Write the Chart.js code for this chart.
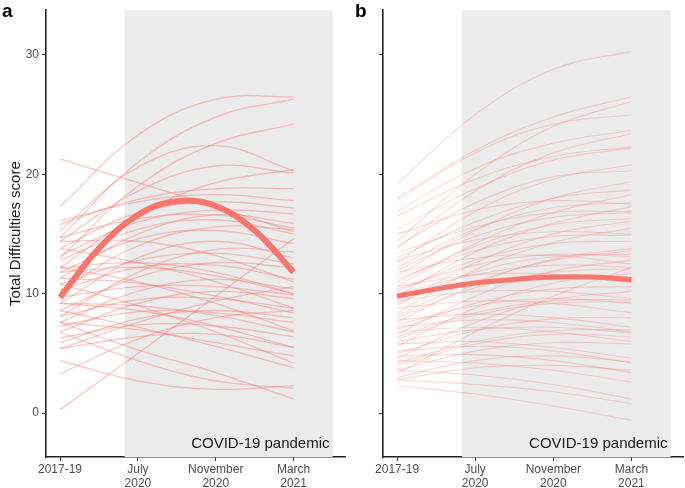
<!DOCTYPE html>
<html>
<head>
<meta charset="utf-8">
<script src="https://cdn.jsdelivr.net/npm/chart.js@4/dist/chart.umd.min.js"></script>
<style>
  body { margin: 0; background: #fff; }
  .panel { position: absolute; top: 0; }
  #wrapA { left: 0; width: 350px; height: 488px; }
  #wrapB { left: 350px; width: 335px; height: 488px; }
</style>
</head>
<body>
<div class="panel" id="wrapA"><canvas id="chartA" width="350" height="488"></canvas></div>
<div class="panel" id="wrapB"><canvas id="chartB" width="335" height="488"></canvas></div>
<script>
// time points: 2017-19, July 2020, November 2020, March 2021
const xPoints = [0, 1, 2, 3];
// the mean curves are read at half steps too
const xMeanPoints = [0, 0.5, 1, 1.5, 2, 2.5, 3];
const xTickLabels = ['2017-19', ['July', '2020'], ['November', '2020'], ['March', '2021']];
const yTicks = [0, 10, 20, 30];
const pandemicStart = 0.83;
const pandemicEnd = 3.5;

// panel a: individual trajectories (values at the four time points)
const panelACurves = [
    [21.3, 19.3, 17.3, 15.2],
    [17.3, 23.3, 26.3, 26.5],
    [14.7, 21.0, 24.8, 26.3],
    [13.0, 19.0, 22.6, 24.2],
    [15.3, 20.6, 22.4, 20.3],
    [14.4, 18.6, 20.7, 20.1],
    [12.2, 16.6, 19.3, 20.4],
    [15.8, 17.9, 18.8, 18.8],
    [16.1, 17.7, 18.3, 17.8],
    [13.8, 16.8, 17.7, 17.2],
    [13.2, 16.0, 17.0, 16.7],
    [11.3, 15.0, 16.6, 15.9],
    [14.7, 16.3, 16.6, 15.5],
    [12.8, 15.4, 16.2, 15.0],
    [11.8, 14.6, 15.3, 14.2],
    [9.2, 13.0, 14.4, 13.0],
    [0.3, 5.0, 9.8, 14.6],
    [10.8, 12.8, 13.4, 12.5],
    [8.6, 11.4, 12.6, 12.2],
    [10.3, 12.2, 12.4, 11.2],
    [7.6, 10.2, 11.2, 10.4],
    [12.2, 12.6, 11.8, 10.0],
    [6.8, 9.2, 10.2, 9.6],
    [9.7, 10.6, 10.6, 9.9],
    [8.1, 9.5, 9.6, 8.8],
    [13.8, 12.6, 11.0, 8.8],
    [11.3, 10.9, 9.8, 8.4],
    [5.9, 7.9, 8.6, 8.0],
    [7.3, 8.5, 8.4, 7.6],
    [12.2, 11.0, 9.2, 6.9],
    [6.3, 7.4, 7.3, 6.4],
    [9.2, 8.6, 7.3, 5.5],
    [5.4, 6.4, 6.6, 5.5],
    [7.6, 7.0, 5.9, 4.8],
    [10.8, 9.0, 6.8, 4.2],
    [8.6, 7.2, 5.6, 3.8],
    [3.3, 6.2, 8.0, 8.6],
    [4.4, 2.7, 2.0, 2.3],
    [7.6, 5.3, 3.4, 1.2],
    [6.8, 4.4, 2.7, 2.1],
    [5.4, 7.6, 9.4, 10.6],
    [8.1, 11.8, 13.7, 13.5],
    [10.3, 14.0, 15.6, 15.4],
    [14.4, 14.4, 13.2, 11.0],
    [9.2, 9.0, 8.2, 6.8],
    [11.8, 12.2, 11.5, 10.0]
];
const panelAMean = [9.7, 13.8, 16.6, 17.75, 17.35, 15.3, 11.8];

// panel b: individual trajectories
const panelBCurves = [
    [19.2, 25.0, 28.8, 30.3],
    [18.0, 22.0, 24.8, 26.5],
    [14.4, 20.0, 24.0, 26.1],
    [17.8, 21.8, 24.2, 25.0],
    [16.9, 20.5, 22.6, 23.7],
    [13.8, 18.6, 21.8, 23.4],
    [16.5, 19.6, 21.5, 22.3],
    [15.4, 18.8, 21.2, 22.2],
    [12.6, 16.9, 19.6, 20.8],
    [14.0, 17.6, 19.8, 20.3],
    [11.5, 15.3, 18.0, 19.4],
    [13.0, 16.0, 18.0, 18.7],
    [10.6, 14.2, 16.8, 18.3],
    [12.2, 15.4, 17.2, 17.6],
    [9.8, 13.5, 15.9, 17.3],
    [11.0, 14.0, 15.8, 16.3],
    [8.4, 12.0, 14.3, 15.5],
    [12.8, 14.5, 15.2, 15.0],
    [10.2, 12.8, 14.2, 14.4],
    [7.6, 10.8, 12.9, 13.8],
    [9.2, 11.8, 13.1, 13.3],
    [6.6, 9.8, 11.9, 12.8],
    [11.8, 13.0, 13.2, 12.5],
    [8.0, 10.5, 11.8, 12.1],
    [5.6, 8.8, 10.9, 11.7],
    [10.6, 11.6, 11.6, 10.9],
    [7.0, 9.2, 10.4, 10.6],
    [4.6, 7.6, 9.5, 10.2],
    [9.4, 10.2, 10.2, 9.6],
    [6.2, 8.2, 9.2, 9.3],
    [3.3, 6.8, 9.8, 12.2],
    [8.8, 9.4, 9.2, 8.4],
    [5.0, 6.9, 7.9, 8.0],
    [7.8, 8.3, 8.0, 7.2],
    [4.2, 6.0, 6.9, 7.0],
    [6.8, 7.2, 6.8, 6.0],
    [3.6, 5.2, 5.9, 5.8],
    [5.8, 6.0, 5.5, 4.6],
    [4.8, 4.9, 4.4, 3.4],
    [2.8, 3.8, 4.0, 3.6],
    [3.6, 3.2, 2.4, 1.2],
    [2.3, 1.6, 0.6, -0.6],
    [2.8, 2.4, 1.8, 0.8],
    [15.0, 17.0, 17.8, 17.5],
    [12.0, 14.8, 16.4, 16.8],
    [9.0, 12.6, 15.0, 16.1],
    [10.0, 11.6, 12.4, 12.2],
    [7.4, 9.0, 9.6, 9.2],
    [6.0, 7.0, 7.2, 6.7],
    [13.4, 15.6, 16.8, 16.9],
    [8.2, 11.0, 12.8, 13.6],
    [4.0, 5.8, 6.6, 6.4],
    [5.2, 5.6, 5.2, 4.2],
    [11.2, 13.6, 14.8, 14.9],
    [6.4, 8.4, 9.4, 9.5],
    [3.0, 4.4, 4.8, 4.3],
    [9.6, 11.0, 11.5, 11.0],
    [7.2, 7.8, 7.6, 6.8],
    [4.4, 4.2, 3.6, 2.6],
    [10.4, 12.4, 13.3, 13.1]
];
const panelBMean = [9.8, 10.4, 10.9, 11.2, 11.4, 11.4, 11.2];

const FONT = '"Liberation Sans", Arial, sans-serif';
const RED = '#F8766D';

function toPoints(xs, values) {
    return values.map((v, i) => ({ x: xs[i], y: v }));
}

// grey "pandemic" band, its label and the panel letter
function bandPlugin(letter, letterX) {
    return {
        id: 'band' + letter,
        beforeDatasetsDraw(chart) {
            const { ctx, chartArea, scales } = chart;
            const x0 = scales.x.getPixelForValue(pandemicStart);
            const x1 = scales.x.getPixelForValue(pandemicEnd);
            ctx.save();
            ctx.fillStyle = '#ebebeb';
            ctx.fillRect(x0, chartArea.top, x1 - x0, chartArea.bottom - chartArea.top);
            ctx.restore();
        },
        afterDatasetsDraw(chart) {
            const { ctx, chartArea, scales } = chart;
            const x1 = scales.x.getPixelForValue(pandemicEnd);
            ctx.save();
            ctx.fillStyle = '#1a1a1a';
            ctx.font = '15px ' + FONT;
            ctx.textAlign = 'right';
            ctx.textBaseline = 'alphabetic';
            ctx.fillText('COVID-19 pandemic', x1 - 3, chartArea.bottom - 9);
            ctx.font = 'bold 19px ' + FONT;
            ctx.textAlign = 'left';
            ctx.fillStyle = '#000';
            ctx.fillText(letter, letterX, 17);
            ctx.restore();
        }
    };
}

function makeChart(canvasId, curves, mean, opts) {
    const datasets = curves.map(c => ({
        data: toPoints(xPoints, c),
        borderColor: opts.thinColor,
        borderWidth: opts.thinWidth,
        pointRadius: 0,
        tension: 0.4
    }));
    datasets.push({
        data: toPoints(xMeanPoints, mean),
        borderColor: RED,
        borderWidth: opts.meanWidth,
        pointRadius: 0,
        tension: 0.4
    });

    return new Chart(document.getElementById(canvasId), {
        type: 'line',
        data: { datasets: datasets },
        options: {
            responsive: false,
            animation: false,
            layout: { padding: { top: 8, right: opts.padRight, bottom: 0, left: 0 } },
            plugins: {
                legend: { display: false },
                tooltip: { enabled: false }
            },
            scales: {
                x: {
                    type: 'linear',
                    min: -0.18,
                    max: 3.66,
                    afterBuildTicks: s => { s.ticks = xPoints.map(v => ({ value: v })); },
                    afterFit: s => { s.height = 31; },
                    grid: { display: true, drawOnChartArea: false, drawTicks: true, tickLength: 4, color: '#333' },
                    border: { display: true, color: '#222', width: 1.6 },
                    ticks: {
                        color: '#4d4d4d',
                        font: { family: FONT, size: 12 },
                        padding: 1,
                        maxRotation: 0,
                        autoSkip: false,
                        callback: (v, i) => xTickLabels[i]
                    }
                },
                y: {
                    type: 'linear',
                    min: -3.67,
                    max: 33.75,
                    afterBuildTicks: s => { s.ticks = yTicks.map(v => ({ value: v })); },
                    afterFit: s => { s.width = opts.yWidth; },
                    grid: { display: true, drawOnChartArea: false, drawTicks: true, tickLength: 4, color: '#333' },
                    border: { display: true, color: '#222', width: 1.6 },
                    title: {
                        display: opts.showTitle,
                        text: 'Total Difficulties score',
                        color: '#1a1a1a',
                        font: { family: FONT, size: 15 },
                        padding: { top: 7, bottom: 0 }
                    },
                    ticks: {
                        color: '#4d4d4d',
                        font: { family: FONT, size: 12 },
                        padding: 3,
                        callback: v => opts.showLabels ? String(v) : ''
                    }
                }
            }
        },
        plugins: [bandPlugin(opts.letter, opts.letterX)]
    });
}

makeChart('chartA', panelACurves, panelAMean, {
    thinColor: 'rgba(248, 118, 109, 0.42)', thinWidth: 1.3, meanWidth: 6,
    yWidth: 46, padRight: 5, showTitle: true, showLabels: true, letter: 'a', letterX: 2
});
makeChart('chartB', panelBCurves, panelBMean, {
    thinColor: 'rgba(248, 118, 109, 0.3)', thinWidth: 1.1, meanWidth: 5,
    yWidth: 33, padRight: 2, showTitle: false, showLabels: false, letter: 'b', letterX: 5
});
</script>
</body>
</html>
